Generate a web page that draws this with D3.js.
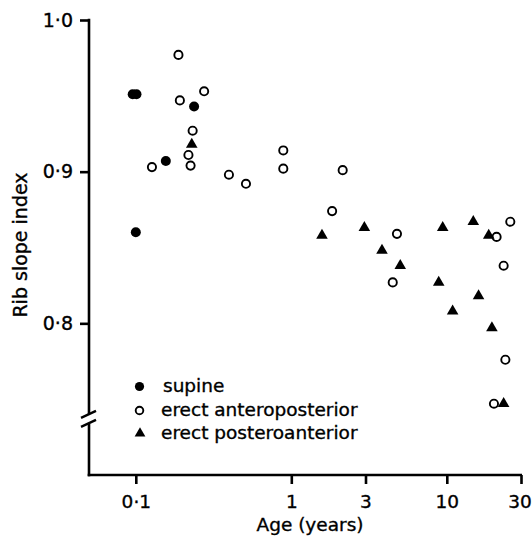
<!DOCTYPE html>
<html><head><meta charset="utf-8">
<script src="https://cdn.jsdelivr.net/npm/d3@7"></script>
<style>body{margin:0;background:#fff}svg{display:block}</style>
</head><body>
<svg id="c" width="532" height="537"></svg>
<script>
// Age in years, rib slope index
const supineAge   = [0.0955, 0.101, 0.237, 0.156, 0.100];
const supineIndex = [0.951, 0.951, 0.943, 0.907, 0.860];

const apAge   = [0.188, 0.275, 0.192, 0.232, 0.218, 0.225, 0.127, 0.397, 0.511, 0.888, 0.888, 2.14, 1.83, 4.78, 4.49, 25.6, 20.9, 23.2, 23.8, 20.1];
const apIndex = [0.977, 0.953, 0.947, 0.927, 0.911, 0.904, 0.903, 0.898, 0.892, 0.914, 0.902, 0.901, 0.874, 0.859, 0.827, 0.867, 0.857, 0.838, 0.776, 0.747];

const paAge   = [0.229, 1.575, 2.95, 3.83, 5.02, 9.41, 8.87, 10.9, 14.8, 16.0, 18.6, 19.5, 23.2];
const paIndex = [0.918, 0.858, 0.863, 0.848, 0.838, 0.863, 0.827, 0.808, 0.867, 0.818, 0.858, 0.797, 0.747];

const xTicks = [0.1, 1, 3, 10, 30];
const xTickLabels = ["0·1", "1", "3", "10", "30"];
const yTicks = [0.8, 0.9, 1.0];
const yTickLabels = ["0·8", "0·9", "1·0"];
const legendLabels = ["supine", "erect anteroposterior", "erect posteroanterior"];
const xTitle = "Age (years)";
const yTitle = "Rib slope index";

const svg = d3.select("#c");
const font = "'DejaVu Sans', sans-serif";
const x = d3.scaleLog().domain([0.05, 30]).range([89, 521]);
const y = d3.scaleLinear().domain([0.7, 1.0]).range([475, 20]);

function styleText(sel, size) {
  sel.attr("font-family", font).attr("font-size", size).attr("fill", "#000")
    .attr("stroke", "#000").attr("stroke-width", 0.35);
}

// X axis
const xAxis = d3.axisBottom(x).tickValues(xTicks)
  .tickFormat((d, i) => xTickLabels[i]).tickSize(9).tickSizeOuter(0).tickPadding(11);
const gx = svg.append("g").attr("transform", `translate(0,${y(0.7)})`).call(xAxis);
gx.select(".domain").attr("stroke", "#000").attr("stroke-width", 2.6)
  .attr("d", `M${x(0.05) - 1.3},0H${x(30) + 1}`);
gx.selectAll(".tick line").attr("stroke", "#000").attr("stroke-width", 2.6);
styleText(gx.selectAll(".tick text"), 18.5);
gx.selectAll(".tick text").filter((d, i) => i === xTicks.length - 1).attr("dx", -1.5);

// Y axis (ticks only, line drawn with break)
const yAxis = d3.axisLeft(y).tickValues(yTicks)
  .tickFormat((d, i) => yTickLabels[i]).tickSize(9).tickSizeOuter(0).tickPadding(7);
const gy = svg.append("g").attr("transform", `translate(${x(0.05)},0)`).call(yAxis);
gy.select(".domain").remove();
gy.selectAll(".tick line").attr("stroke", "#000").attr("stroke-width", 2.6);
styleText(gy.selectAll(".tick text"), 19);

const ax = x(0.05);
const brk = y(0.737);
svg.append("line").attr("x1", ax).attr("x2", ax).attr("y1", y(1.0) - 1.3).attr("y2", brk - 5)
  .attr("stroke", "#000").attr("stroke-width", 2.6);
svg.append("line").attr("x1", ax).attr("x2", ax).attr("y1", brk + 5).attr("y2", y(0.7) + 1.3)
  .attr("stroke", "#000").attr("stroke-width", 2.6);
[-4.5, 4.5].forEach(o => {
  svg.append("line").attr("x1", ax - 8).attr("y1", brk + o + 3.5).attr("x2", ax + 7).attr("y2", brk + o - 3.5)
    .attr("stroke", "#000").attr("stroke-width", 2.4);
});

// Titles
styleText(svg.append("text").attr("x", 310).attr("y", 531).attr("text-anchor", "middle").text(xTitle), 18.5);
styleText(svg.append("text").attr("transform", "translate(27,245) rotate(-90)").attr("text-anchor", "middle").text(yTitle), 19);

// Data
const tri = d3.symbol().type(d3.symbolTriangle).size(58);
svg.append("g").selectAll("circle").data(d3.zip(supineAge, supineIndex)).join("circle")
  .attr("cx", d => x(d[0])).attr("cy", d => y(d[1])).attr("r", 5).attr("fill", "#000");
svg.append("g").selectAll("circle").data(d3.zip(apAge, apIndex)).join("circle")
  .attr("cx", d => x(d[0])).attr("cy", d => y(d[1])).attr("r", 4.1)
  .attr("fill", "#fff").attr("stroke", "#000").attr("stroke-width", 1.9);
svg.append("g").selectAll("path").data(d3.zip(paAge, paIndex)).join("path")
  .attr("d", tri).attr("transform", d => `translate(${x(d[0])},${y(d[1])})`).attr("fill", "#000");

// Legend
const lg = svg.append("g");
const rows = [392, 416, 439];
lg.append("circle").attr("cx", 139.5).attr("cy", rows[0] - 5.5).attr("r", 4.6).attr("fill", "#000");
lg.append("circle").attr("cx", 139.5).attr("cy", rows[1] - 5.5).attr("r", 3.8)
  .attr("fill", "#fff").attr("stroke", "#000").attr("stroke-width", 1.9);
lg.append("path").attr("d", d3.symbol().type(d3.symbolTriangle).size(50)())
  .attr("transform", `translate(140,${rows[2] - 5.5})`).attr("fill", "#000");
legendLabels.forEach((t, i) => {
  styleText(lg.append("text").attr("x", i === 0 ? 163 : 161).attr("y", rows[i]).text(t), 18.5);
});
</script>
</body></html>
